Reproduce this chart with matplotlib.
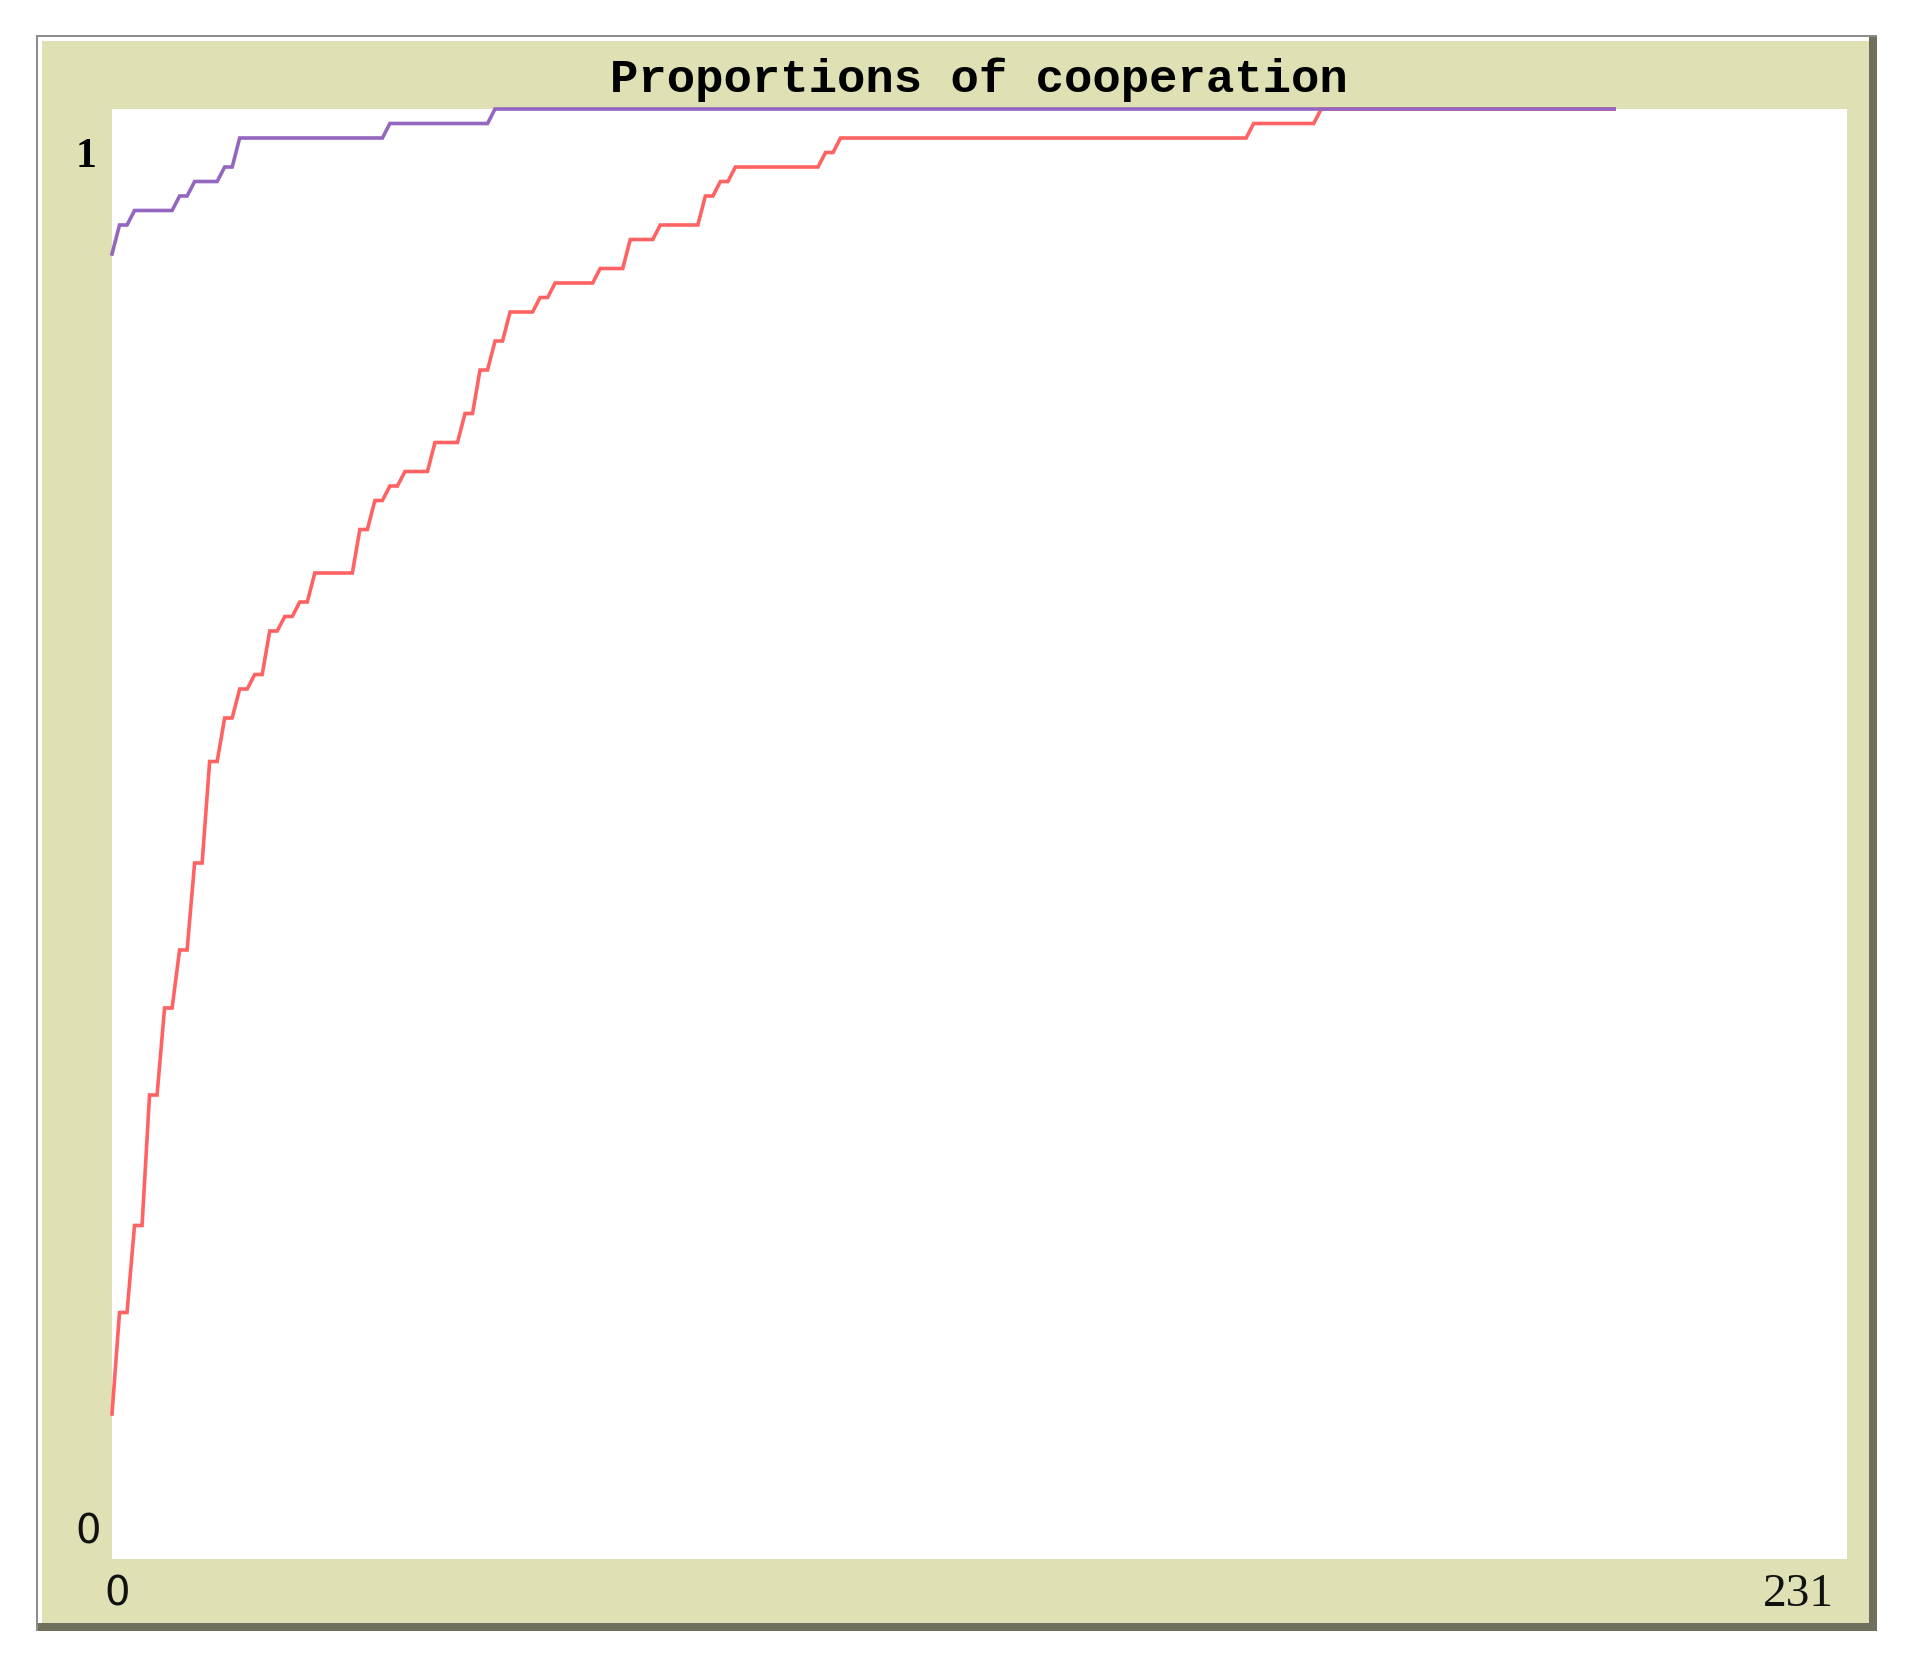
import matplotlib
matplotlib.use("Agg")
import matplotlib.pyplot as plt
from matplotlib.patches import Rectangle

# ---- data ----
title = "Proportions of cooperation"
x_min_label, x_max_label = "0", "231"
y_min_label, y_max_label = "0", "1"
x_max = 231

red_ticks = [0, 1, 2, 3, 4, 5, 6, 7, 8, 9, 10, 11, 12, 13, 14, 15, 16, 17, 18,
             19, 20, 21, 22, 23, 24, 25, 26, 27, 32, 33, 34, 35, 36, 37, 38, 39,
             42, 43, 46, 47, 48, 49, 50, 51, 52, 53, 56, 57, 58, 59, 64, 65, 68,
             69, 72, 73, 78, 79, 80, 81, 82, 83, 94, 95, 96, 97, 151, 152, 160,
             161, 200]
red_values = [0.10, 0.17, 0.17, 0.23, 0.23, 0.32, 0.32, 0.38, 0.38, 0.42, 0.42,
              0.48, 0.48, 0.55, 0.55, 0.58, 0.58, 0.60, 0.60, 0.61, 0.61, 0.64,
              0.64, 0.65, 0.65, 0.66, 0.66, 0.68, 0.68, 0.71, 0.71, 0.73, 0.73,
              0.74, 0.74, 0.75, 0.75, 0.77, 0.77, 0.79, 0.79, 0.82, 0.82, 0.84,
              0.84, 0.86, 0.86, 0.87, 0.87, 0.88, 0.88, 0.89, 0.89, 0.91, 0.91,
              0.92, 0.92, 0.94, 0.94, 0.95, 0.95, 0.96, 0.96, 0.97, 0.97, 0.98,
              0.98, 0.99, 0.99, 1.00, 1.00]

purple_ticks = [0, 1, 2, 3, 8, 9, 10, 11, 14, 15, 16, 17, 36, 37, 50, 51, 200]
purple_values = [0.90, 0.92, 0.92, 0.93, 0.93, 0.94, 0.94, 0.95, 0.95, 0.96,
                 0.96, 0.98, 0.98, 0.99, 0.99, 1.00, 1.00]

# ---- style ----
W, H = 1911, 1656
BEIGE = "#dfe0b4"
RED = "#ff6262"
PURPLE = "#9466bf"

fig = plt.figure(figsize=(W / 100, H / 100), dpi=100)
fig.patch.set_facecolor("white")

# pixel-coordinate background axes for the widget frame
bg = fig.add_axes([0, 0, 1, 1])
bg.set_xlim(0, W)
bg.set_ylim(H, 0)
bg.axis("off")

L, T, R, B = 36, 36, 1877, 1632
bg.add_patch(Rectangle((L, T), R - L, B - T, facecolor="#8c8c8c", edgecolor="none"))
bg.add_patch(Rectangle((L + 2, T + 2), R - L - 2, B - T - 2, facecolor="#6f6f5c", edgecolor="none"))
bg.add_patch(Rectangle((L + 2, T + 2), R - L - 10, B - T - 10, facecolor="white", edgecolor="none"))
bg.add_patch(Rectangle((L + 6, T + 6), R - L - 14, B - T - 14, facecolor=BEIGE, edgecolor="none"))

# plot area
pl, pt, pr, pb = 112, 110, 1847, 1560
ax = fig.add_axes([pl / W, (H - pb) / H, (pr - pl) / W, (pb - pt) / H])
ax.set_facecolor("white")
for s in ax.spines.values():
    s.set_visible(False)
ax.set_xticks([])
ax.set_yticks([])
ax.set_xlim(0, x_max)
ax.set_ylim(0, 1)

ax.plot(red_ticks, red_values, color=RED, lw=2.6, clip_on=False,
        solid_joinstyle="miter", zorder=2)
ax.plot(purple_ticks, purple_values, color=PURPLE, lw=2.6, clip_on=False,
        solid_joinstyle="miter", zorder=3)

# texts
bg.text(979, 80, title, ha="center", va="center", fontsize=34,
        fontfamily="Liberation Mono", fontweight="bold", color="black")
bg.text(86, 157, y_max_label, ha="center", va="center", fontsize=30,
        fontfamily="Liberation Serif", fontweight="bold", color="black")
bg.text(88, 1533, y_min_label, ha="center", va="center", fontsize=29,
        fontfamily="DejaVu Sans", color="#111111")
bg.text(117, 1595, x_min_label, ha="center", va="center", fontsize=29,
        fontfamily="DejaVu Sans", color="#111111")
bg.text(1834, 1595, x_max_label, ha="right", va="center", fontsize=34,
        fontfamily="Liberation Serif", color="#111111")

fig.savefig("out.png", dpi=100, facecolor="white")
